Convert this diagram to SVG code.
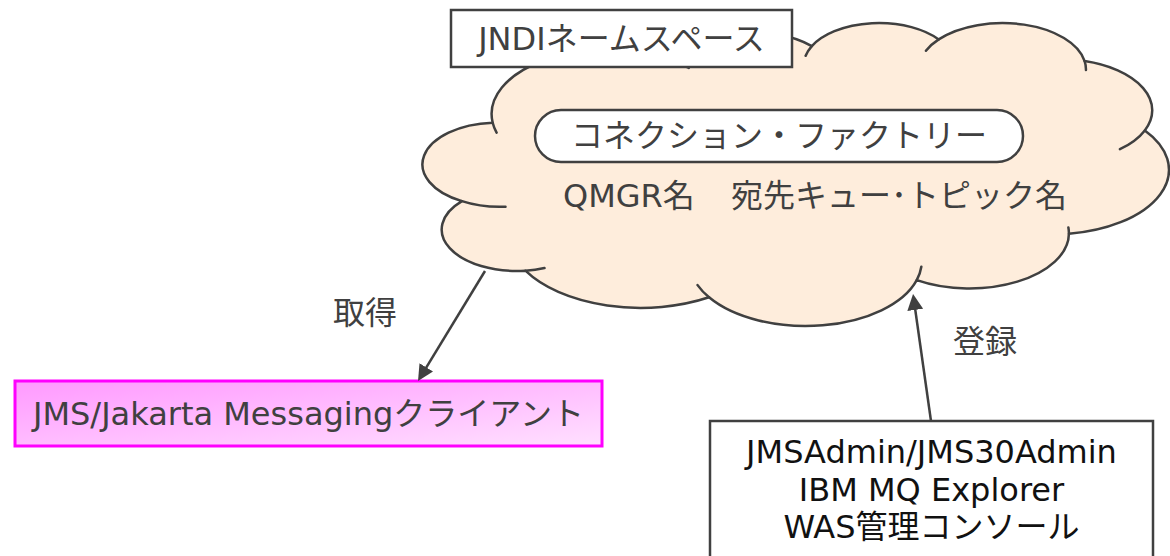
<svg xmlns="http://www.w3.org/2000/svg" width="1170" height="556" viewBox="0 0 1170 556">
  <style>
    text { font-family: "DejaVu Sans", "Noto Sans CJK JP", sans-serif; font-size: 32px; fill: #404040; }
    .c { text-anchor: middle; dominant-baseline: central; }
    .dark { fill: #111111; }
    .box { fill: #ffffff; stroke: #404040; stroke-width: 2.5; }
    .cloud { fill: #feeddc; stroke: #404040; stroke-width: 2.5; vector-effect: non-scaling-stroke; stroke-linejoin: round; }
    .crease { fill: none; stroke: #404040; stroke-width: 2.5; vector-effect: non-scaling-stroke; stroke-linecap: round; }
    .edge { fill: none; stroke: #404040; stroke-width: 2.5; }
  </style>
  <defs>
    <linearGradient id="pinkFill" x1="0" y1="0" x2="1" y2="1">
      <stop offset="0" stop-color="#ff99ff"/>
      <stop offset="1" stop-color="#ffe0ff"/>
    </linearGradient>
    <marker id="arrowHead" markerUnits="userSpaceOnUse" markerWidth="16" markerHeight="16" viewBox="0 0 16 16" refX="12" refY="8" orient="auto">
      <path d="M0,0 L16,8 L0,16 Z" fill="#404040"/>
    </marker>
  </defs>

  <!-- JNDI namespace cloud (preset cloud outline in 43200-unit space) -->
  <g id="node-namespace">
    <g transform="translate(425.6 22) scale(0.0171991 0.0070116)">
      <path class="cloud" d="M3900 14370
        A6753 9190 0 0 1 14005 5202
        A5333 7267 0 0 1 22456 3432
        A4365 5945 0 0 1 29833 2481
        A4857 6595 0 0 1 38318 5576
        A5333 7273 0 0 1 41818 15460
        A6775 9220 0 0 1 37404 30203
        A5785 7867 0 0 1 28556 36813
        A6752 9215 0 0 1 16480 39264
        A7720 10543 0 0 1 5805 35470
        A4360 5918 0 0 1 2113 25548
        A4345 5945 0 0 1 3900 14370 Z"/>
      <path class="crease" d="M4647 26345 A4345 5945 0 0 1 2113 25548
        M6913 35089 A4360 5918 0 0 1 5805 35470
        M16480 39264 A6752 9215 0 0 1 15813 37524
        M28823 34904 A6752 9215 0 0 1 28556 36813
        M37373 29318 A5785 7867 0 0 1 37404 30203
        M41818 15460 A5333 7273 0 0 1 40370 18135
        M38318 5576 A4857 6595 0 0 1 38394 6840
        M29091 4093 A4857 6595 0 0 1 29833 2481
        M22097 4822 A4365 5945 0 0 1 22456 3432
        M14005 5202 A6753 9190 0 0 1 15305 6550
        M4127 15789 A6753 9190 0 0 1 3900 14370"/>
    </g>
    <text x="563" y="196" dominant-baseline="central">QMGR名<tspan x="731">宛先キュー･トピック名</tspan></text>
  </g>

  <g id="node-jndi-title">
    <rect class="box" x="451" y="10" width="341" height="57"/>
    <text class="c" x="621.5" y="38.5">JNDIネームスペース</text>
  </g>

  <g id="node-connection-factory">
    <rect class="box" x="535" y="110" width="488" height="52" rx="26" ry="26"/>
    <text class="c" x="779" y="136">コネクション・ファクトリー</text>
  </g>

  <g id="node-client">
    <rect x="15" y="381" width="587" height="65" fill="url(#pinkFill)" stroke="#ff00ff" stroke-width="3"/>
    <text class="c" x="308.5" y="413.5">JMS/Jakarta Messagingクライアント</text>
  </g>

  <g id="node-admin-tools">
    <rect class="box" x="710" y="421" width="443" height="150"/>
    <text class="c dark" x="931.5" y="452">JMSAdmin/JMS30Admin</text>
    <text class="c dark" x="931.5" y="490">IBM MQ Explorer</text>
    <text class="c dark" x="931.5" y="527">WAS管理コンソール</text>
  </g>

  <g id="connectors">
    <line class="edge" x1="485" y1="271" x2="420.1" y2="377.6" marker-end="url(#arrowHead)"/>
    <text class="c" x="365" y="313">取得</text>
    <line class="edge" x1="931" y1="421" x2="913.6" y2="298" marker-end="url(#arrowHead)"/>
    <text class="c" x="985" y="342">登録</text>
  </g>
</svg>
